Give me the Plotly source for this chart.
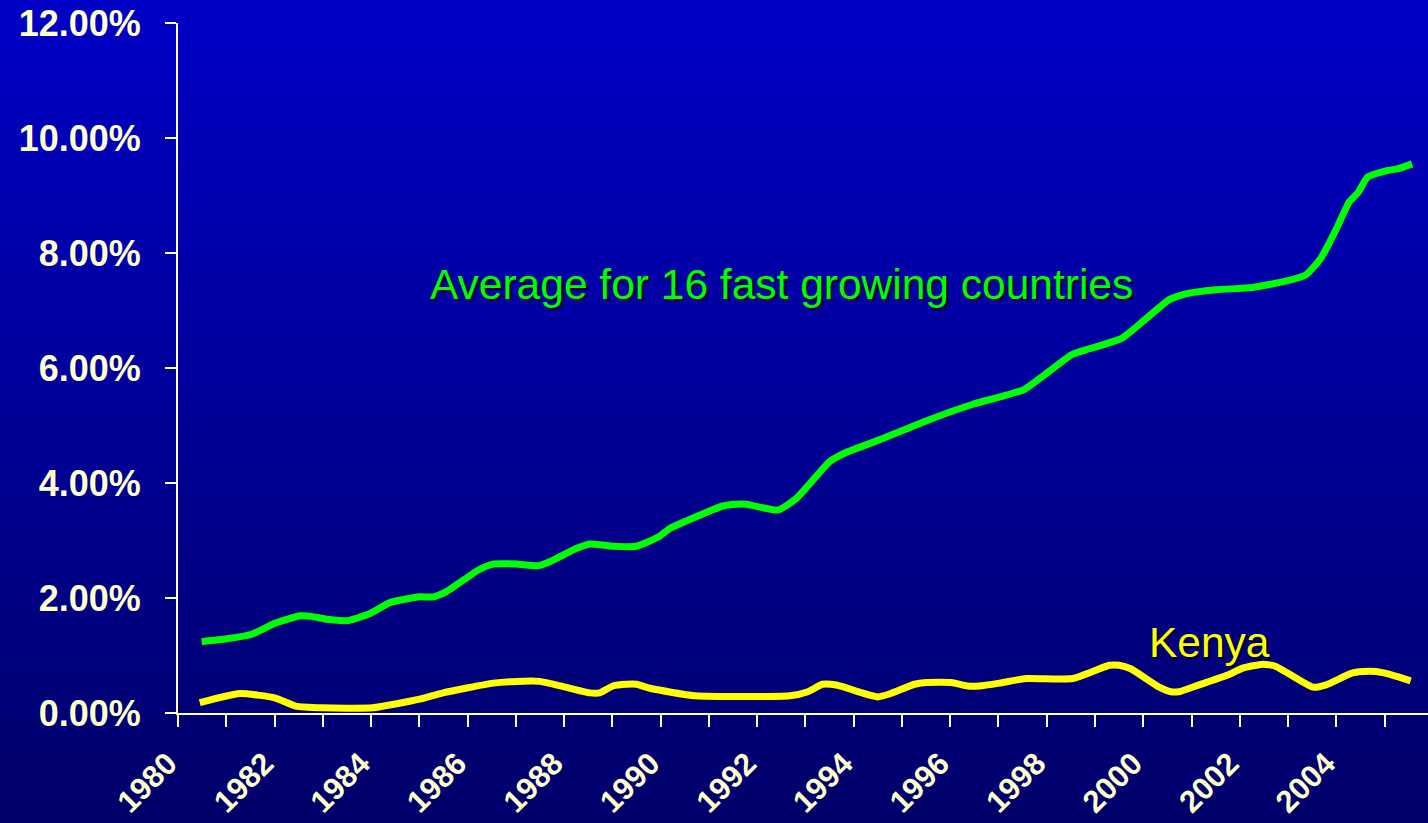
import plotly.graph_objects as go

# ---- data ----
fast_x = [1980.49, 1981.01, 1981.53, 1982.01, 1982.53, 1982.77, 1983.08, 1983.53, 1983.98,
          1984.39, 1985.01, 1985.29, 1985.56, 1986.25, 1986.53, 1987.01, 1987.46, 1987.70,
          1988.25, 1988.53, 1989.01, 1989.50, 1989.95, 1990.19, 1990.53, 1991.29, 1991.57,
          1991.77, 1992.43, 1992.81, 1993.50, 1993.84, 1994.53, 1995.50, 1996.47, 1997.09,
          1997.54, 1998.05, 1998.54, 1999.54, 2000.06, 2000.54, 2000.88, 2001.51, 2002.26,
          2002.95, 2003.37, 2003.68, 2003.99, 2004.27, 2004.45, 2004.65, 2005.03, 2005.30,
          2005.57]
fast_y = [1.24, 1.29, 1.37, 1.56, 1.69, 1.68, 1.63, 1.61, 1.73,
          1.92, 2.02, 2.02, 2.11, 2.50, 2.59, 2.59, 2.56, 2.63,
          2.86, 2.94, 2.90, 2.90, 3.06, 3.21, 3.34, 3.60, 3.63,
          3.63, 3.53, 3.73, 4.37, 4.53, 4.75, 5.08, 5.37, 5.51,
          5.63, 5.94, 6.24, 6.51, 6.86, 7.19, 7.29, 7.36, 7.40,
          7.51, 7.62, 7.91, 8.40, 8.89, 9.05, 9.32, 9.43, 9.47,
          9.55]

kenya_x = [1980.45, 1981.28, 1982.02, 1982.44, 1982.99, 1984.03, 1985.01, 1985.49, 1986.53,
           1987.01, 1987.50, 1987.98, 1988.53, 1988.74, 1989.01, 1989.29, 1989.50, 1989.78,
           1990.71, 1992.68, 1993.05, 1993.35, 1993.53, 1993.77, 1994.05, 1994.50, 1994.74,
           1995.26, 1995.50, 1996.02, 1996.36, 1996.60, 1997.02, 1997.57, 1998.54, 1999.30,
           1999.50, 1999.74, 2000.33, 2000.57, 2000.74, 2001.16, 2001.75, 2002.06, 2002.48,
           2002.75, 2003.51, 2003.79, 2004.31, 2004.55, 2004.82, 2005.16, 2005.54]
kenya_y = [0.18, 0.34, 0.26, 0.12, 0.09, 0.09, 0.24, 0.35, 0.52,
           0.55, 0.55, 0.46, 0.35, 0.35, 0.47, 0.50, 0.50, 0.43,
           0.30, 0.30, 0.37, 0.50, 0.50, 0.46, 0.38, 0.28, 0.33,
           0.50, 0.53, 0.53, 0.47, 0.47, 0.52, 0.60, 0.60, 0.83,
           0.83, 0.77, 0.45, 0.37, 0.37, 0.49, 0.66, 0.78, 0.85,
           0.81, 0.45, 0.49, 0.69, 0.72, 0.72, 0.66, 0.56]

year_ticks = list(range(1980, 2006))
year_labels = [str(y) if y % 2 == 0 else "" for y in year_ticks]
pct_ticks = [0, 2, 4, 6, 8, 10, 12]
pct_labels = ["0.00%", "2.00%", "4.00%", "6.00%", "8.00%", "10.00%", "12.00%"]

label_fast = "Average for 16 fast growing countries"
label_kenya = "Kenya"

# ---- style ----
W, H = 1428, 823
ML, MR, MT, MB = 178, 0, 23, 110
CREAM = "#FFFFCC"
TOP = (0, 0, 200)
BOT = (0, 0, 105)

fig = go.Figure()
fig.add_trace(go.Scatter(x=fast_x, y=fast_y, mode="lines",
                         line=dict(color="#00FF00", width=7, shape="spline", smoothing=0.5),
                         hoverinfo="skip", showlegend=False))
fig.add_trace(go.Scatter(x=kenya_x, y=kenya_y, mode="lines",
                         line=dict(color="#FFFF00", width=7, shape="spline", smoothing=0.5),
                         hoverinfo="skip", showlegend=False))

# gradient background as paper-spanning bands
pw = W - ML - MR
ph = H - MT - MB
x0p, x1p = -ML / pw - 0.01, 1 + MR / pw + 0.01
y_top, y_bot = 1 + MT / ph + 0.01, -MB / ph - 0.01
n = 90
shapes = []
for i in range(n):
    t = (i + 0.5) / n
    r = round(TOP[0] + (BOT[0] - TOP[0]) * t)
    g = round(TOP[1] + (BOT[1] - TOP[1]) * t)
    b = round(TOP[2] + (BOT[2] - TOP[2]) * t)
    ya = y_top + (y_bot - y_top) * i / n
    yb = y_top + (y_bot - y_top) * (i + 1) / n
    shapes.append(dict(type="rect", xref="paper", yref="paper", x0=x0p, x1=x1p,
                       y0=yb, y1=ya + 0.002, fillcolor=f"rgb({r},{g},{b})",
                       line=dict(width=0), layer="below"))

fig.update_layout(
    width=W, height=H,
    margin=dict(l=ML, r=MR, t=MT, b=MB, pad=0, autoexpand=False),
    paper_bgcolor="rgb(0,0,150)",
    plot_bgcolor="rgba(0,0,0,0)",
    shapes=shapes,
    font=dict(family="Liberation Sans, Arial, sans-serif", color=CREAM),
    xaxis=dict(range=[1980, 2005.9], tickmode="array", tickvals=year_ticks, ticktext=year_labels,
               tickangle=-45, ticks="outside", ticklen=12, tickwidth=2, tickcolor=CREAM,
               showline=True, linecolor=CREAM, linewidth=2, showgrid=False, zeroline=False,
               automargin=False, ticklabelstandoff=6, ticklabelshift=-10,
               tickfont=dict(size=31, color=CREAM, weight="bold")),
    yaxis=dict(range=[0, 12], tickmode="array", tickvals=pct_ticks, ticktext=pct_labels,
               ticks="outside", ticklen=11, tickwidth=2, tickcolor=CREAM,
               showline=True, linecolor=CREAM, linewidth=2, showgrid=False, zeroline=False,
               automargin=False, ticklabelstandoff=17,
               tickfont=dict(size=36, color=CREAM, weight="bold")),
    annotations=[
        dict(x=1985.18, y=7.46, xref="x", yref="y", text=label_fast, showarrow=False,
             xanchor="left", yanchor="middle",
             font=dict(size=42.5, color="#00FF00", shadow="2px 2px 1px #000022")),
        dict(x=2000.08, y=1.22, xref="x", yref="y", text=label_kenya, showarrow=False,
             xanchor="left", yanchor="middle",
             font=dict(size=42.5, color="#FFFF00", shadow="2px 2px 1px #000022")),
    ],
)

fig.write_html("out.html", config={"displayModeBar": False},
               post_script="document.body.style.margin='0';document.body.style.background='rgb(0,0,105)';")
